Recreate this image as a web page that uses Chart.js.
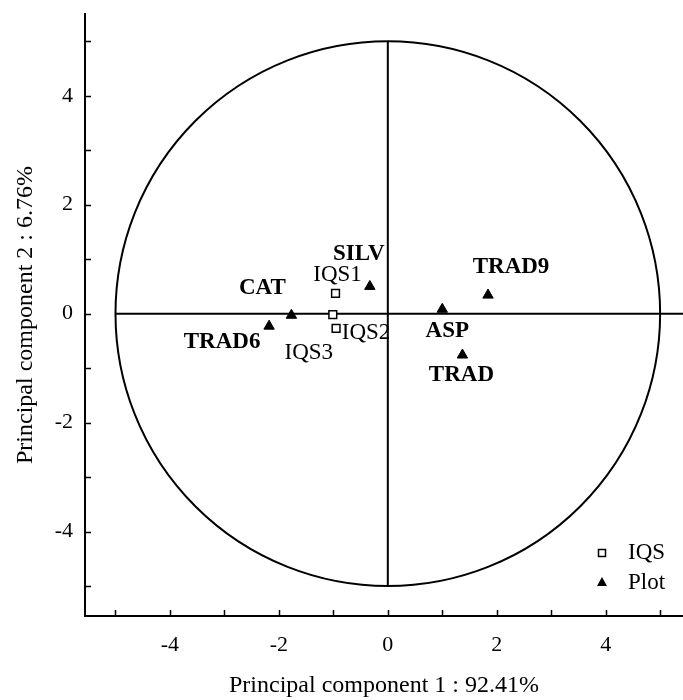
<!DOCTYPE html>
<html>
<head>
<meta charset="utf-8">
<title>PCA</title>
<script src="https://cdn.jsdelivr.net/npm/chart.js@4.4.1/dist/chart.umd.min.js"></script>
<style>
  html, body { margin: 0; padding: 0; background: #fff; }
  #wrap { width: 683px; height: 700px; }
</style>
</head>
<body>
<div id="wrap"><canvas id="pca" width="683" height="700"></canvas></div>
<script>
// data
const iqsNames = ['IQS1', 'IQS2', 'IQS3'];
const iqsX = [-0.96, -0.95, -1.01];
const iqsY = [0.37, -0.27, -0.02];

const plotNames = ['SILV', 'CAT', 'TRAD6', 'ASP', 'TRAD9', 'TRAD'];
const plotX = [-0.33, -1.77, -2.18, 1.00, 1.84, 1.37];
const plotY = [0.50, -0.03, -0.23, 0.08, 0.34, -0.76];

const tickValues = [-4, -2, 0, 2, 4];
const minorTicks = [-5, -4, -3, -2, -1, 0, 1, 2, 3, 4, 5];
const circleRadius = 5;

const X_MIN = -5.56, X_MAX = 5.42;
const Y_MIN = -5.55, Y_MAX = 5.5;

// label offsets in px (from marker centre to text centre)
const iqsLabelOffsets = [[2, -19], [30, 5], [-24, 38]];
const plotLabelOffsets = [[-11, -32], [-29, -27], [-47, 16], [5, 22], [23, -28], [-1, 20]];

const FONT = '"Liberation Serif", "Times New Roman", serif';

function pts(xs, ys) {
	return xs.map((x, i) => ({ x: x, y: ys[i] }));
}

// 상관원 (correlation circle)
const circlePlugin = {
	id: 'circle',
	beforeDatasetsDraw(chart) {
		const { ctx, scales: { x, y } } = chart;
		const cx = x.getPixelForValue(0), cy = y.getPixelForValue(0);
		const rx = x.getPixelForValue(circleRadius) - cx;
		const ry = cy - y.getPixelForValue(circleRadius);
		ctx.save();
		ctx.beginPath();
		ctx.ellipse(cx, cy, rx, ry, 0, 0, Math.PI * 2);
		ctx.lineWidth = 2;
		ctx.strokeStyle = '#000';
		ctx.stroke();
		ctx.restore();
	}
};

// inward tick marks
const innerTicks = {
	id: 'innerTicks',
	afterDraw(chart) {
		const { ctx, chartArea: a, scales: { x, y } } = chart;
		ctx.save();
		ctx.strokeStyle = '#000';
		ctx.lineWidth = 1.5;
		ctx.beginPath();
		minorTicks.forEach(v => {
			const px = Math.round(x.getPixelForValue(v)) + 0.5;
			ctx.moveTo(px, a.bottom);
			ctx.lineTo(px, a.bottom - 6);
			const py = Math.round(y.getPixelForValue(v)) + 0.5;
			ctx.moveTo(a.left, py);
			ctx.lineTo(a.left + 6, py);
		});
		ctx.stroke();
		ctx.restore();
	}
};

const pointLabels = {
	id: 'pointLabels',
	afterDatasetsDraw(chart) {
		const ctx = chart.ctx;
		ctx.save();
		ctx.fillStyle = '#000';
		ctx.textAlign = 'center';
		ctx.textBaseline = 'middle';
		const sets = [
			{ idx: 0, names: iqsNames, offs: iqsLabelOffsets, font: '23px ' + FONT },
			{ idx: 1, names: plotNames, offs: plotLabelOffsets, font: 'bold 23px ' + FONT }
		];
		sets.forEach(s => {
			ctx.font = s.font;
			chart.getDatasetMeta(s.idx).data.forEach((el, i) => {
				ctx.fillText(s.names[i], el.x + s.offs[i][0], el.y + s.offs[i][1]);
			});
		});
		ctx.restore();
	}
};

// legend in the lower right corner of the plot
const cornerLegend = {
	id: 'cornerLegend',
	afterDraw(chart) {
		const { ctx, chartArea: a } = chart;
		const mx = a.right - 81, tx = a.right - 55;
		const y1 = a.bottom - 63, y2 = a.bottom - 33;
		ctx.save();
		ctx.strokeStyle = '#000';
		ctx.lineWidth = 1.5;
		ctx.fillStyle = '#fff';
		ctx.fillRect(mx - 3.5, y1 - 3.5, 7, 7);
		ctx.strokeRect(mx - 3.5, y1 - 3.5, 7, 7);
		ctx.fillStyle = '#000';
		ctx.beginPath();
		ctx.moveTo(mx, y2 - 6);
		ctx.lineTo(mx + 5, y2 + 3);
		ctx.lineTo(mx - 5, y2 + 3);
		ctx.closePath();
		ctx.fill();
		ctx.font = '23px ' + FONT;
		ctx.textAlign = 'left';
		ctx.textBaseline = 'middle';
		ctx.fillText('IQS', tx, y1);
		ctx.fillText('Plot', tx, y2);
		ctx.restore();
	}
};

new Chart(document.getElementById('pca'), {
	type: 'scatter',
	data: {
		datasets: [
			{
				label: 'IQS',
				data: pts(iqsX, iqsY),
				pointStyle: 'rect',
				pointRadius: 5.5,
				borderColor: '#000',
				borderWidth: 1.5,
				backgroundColor: '#fff'
			},
			{
				label: 'Plot',
				data: pts(plotX, plotY),
				pointStyle: 'triangle',
				pointRadius: 6,
				borderColor: '#000',
				borderWidth: 1,
				backgroundColor: '#000'
			},
			{
				type: 'line',
				label: 'h',
				data: [{ x: -circleRadius, y: 0 }, { x: X_MAX, y: 0 }],
				borderColor: '#000',
				borderWidth: 2,
				pointRadius: 0,
				fill: false
			},
			{
				type: 'line',
				label: 'v',
				data: [{ x: 0, y: -circleRadius }, { x: 0, y: circleRadius }],
				borderColor: '#000',
				borderWidth: 2,
				pointRadius: 0,
				fill: false
			}
		]
	},
	options: {
		responsive: false,
		animation: false,
		layout: { autoPadding: false, padding: { top: 14, right: 0, left: 0, bottom: 0 } },
		plugins: {
			legend: { display: false },
			tooltip: { enabled: false }
		},
		scales: {
			x: {
				type: 'linear',
				min: X_MIN,
				max: X_MAX,
				grid: { display: false, drawTicks: false },
				border: { display: true, color: '#000', width: 2 },
				afterBuildTicks: s => { s.ticks = tickValues.map(v => ({ value: v })); },
				afterFit: s => { s.height = 84; s.paddingLeft = 0; s.paddingRight = 0; },
				ticks: { color: '#000', font: { family: FONT, size: 22 }, padding: 16 },
				title: {
					display: true,
					text: 'Principal component 1 : 92.41%',
					color: '#000',
					font: { family: FONT, size: 24 },
					padding: { top: 0, bottom: 0 }
				}
			},
			y: {
				type: 'linear',
				min: Y_MIN,
				max: Y_MAX,
				grid: { display: false, drawTicks: false },
				border: { display: true, color: '#000', width: 2 },
				afterBuildTicks: s => { s.ticks = tickValues.map(v => ({ value: v })); },
				afterFit: s => { s.width = 85; s.paddingTop = 0; s.paddingBottom = 0; },
				ticks: { color: '#000', font: { family: FONT, size: 22 }, padding: 12 },
				title: {
					display: true,
					text: 'Principal component 2 : 6.76%',
					color: '#000',
					font: { family: FONT, size: 24 },
					padding: { top: 11, bottom: 0 }
				}
			}
		}
	},
	plugins: [circlePlugin, innerTicks, pointLabels, cornerLegend]
});
</script>
</body>
</html>
